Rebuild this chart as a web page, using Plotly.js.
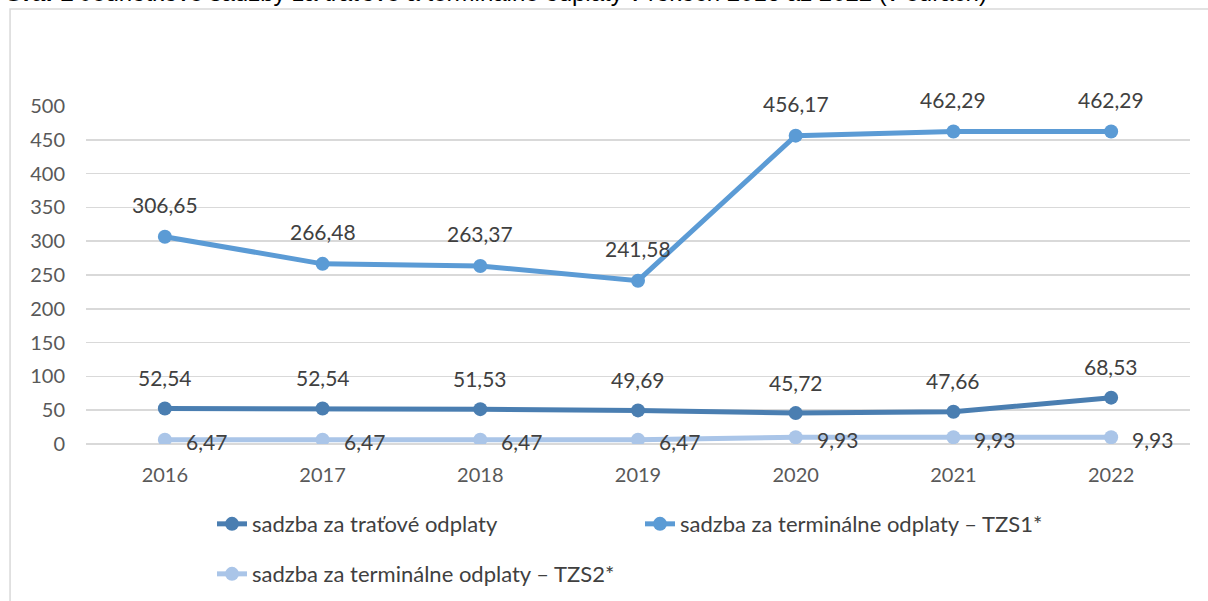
<!DOCTYPE html>
<html>
<head>
<meta charset="utf-8">
<script src="https://cdn.plot.ly/plotly-3.0.1.min.js"></script>
<style>
  html, body { margin: 0; padding: 0; background: #ffffff; }
  #chart { width: 1208px; height: 601px; }
</style>
</head>
<body>
<div id="chart"></div>
<script>
// ---- data ----
const years = ['2016', '2017', '2018', '2019', '2020', '2021', '2022'];
const tratove = [52.54, 52.54, 51.53, 49.69, 45.72, 47.66, 68.53];
const tzs1 = [306.65, 266.48, 263.37, 241.58, 456.17, 462.29, 462.29];
const tzs2 = [6.47, 6.47, 6.47, 6.47, 9.93, 9.93, 9.93];
const seriesNames = [
  'sadzba za traťové odplaty',
  'sadzba za terminálne odplaty – TZS1*',
  'sadzba za terminálne odplaty – TZS2*'
];
const captionText = '<b>Graf 1</b> Jednotkové sadzby za traťové a terminálne odplaty v rokoch 2016 až 2022 (v eurách)';

// ---- styles ----
const colors = ['#4a7eb1', '#5b9bd5', '#aac5e8'];
const FONT = 'Lato, "Open Sans", sans-serif';
const fmt = v => v.toFixed(2).replace('.', ',');
const LABEL_SIZE = 21;

const traces = [tratove, tzs1, tzs2].map((vals, i) => ({
  type: 'scatter',
  mode: 'lines+markers',
  x: years,
  y: vals,
  name: seriesNames[i],
  legend: i === 2 ? 'legend2' : 'legend',
  line: { color: colors[i], width: 5 },
  marker: { color: colors[i], size: 14 },
  hoverinfo: 'skip'
}));

const annotations = [];
years.forEach((yr, k) => {
  // k = category index on the category x axis
  annotations.push({
    x: k, y: tratove[k], xref: 'x', yref: 'y',
    text: fmt(tratove[k]), showarrow: false,
    xanchor: 'center', yanchor: 'middle', yshift: 31,
    font: { family: FONT, size: LABEL_SIZE, color: '#404040' }
  });
  annotations.push({
    x: k, y: tzs1[k], xref: 'x', yref: 'y',
    text: fmt(tzs1[k]), showarrow: false,
    xanchor: 'center', yanchor: 'middle', yshift: 32,
    font: { family: FONT, size: LABEL_SIZE, color: '#404040' }
  });
  annotations.push({
    x: k, y: tzs2[k], xref: 'x', yref: 'y',
    text: fmt(tzs2[k]), showarrow: false,
    xanchor: 'left', yanchor: 'middle', xshift: 19, yshift: -2,
    font: { family: FONT, size: LABEL_SIZE, color: '#404040' }
  });
});
// caption, cut off at the top edge as in the reference
annotations.push({
  xref: 'paper', yref: 'paper', x: -0.0761, y: 1.2885,
  xanchor: 'left', yanchor: 'bottom', showarrow: false,
  text: captionText,
  font: { family: '"Liberation Sans", Arial, sans-serif', size: 24, color: '#000000' }
});

const layout = {
  width: 1208,
  height: 601,
  margin: { l: 86, r: 18, t: 106, b: 157 },
  paper_bgcolor: '#ffffff',
  plot_bgcolor: '#ffffff',
  separators: ', ',
  showlegend: true,
  font: { family: FONT, size: 20, color: '#595959' },
  xaxis: {
    type: 'category',
    range: [-0.5, 6.5],
    autorange: false,
    showgrid: false,
    showline: false,
    zeroline: false,
    ticks: '',
    ticklabelstandoff: 17,
    tickfont: { family: FONT, size: 20, color: '#595959' }
  },
  yaxis: {
    range: [0, 500],
    autorange: false,
    dtick: 50,
    tick0: 0,
    showgrid: true,
    gridcolor: '#d9d9d9',
    gridwidth: 1.5,
    zeroline: true,
    zerolinecolor: '#d9d9d9',
    zerolinewidth: 1.5,
    showline: false,
    ticks: '',
    ticklabelstandoff: 20,
    tickfont: { family: FONT, size: 20, color: '#595959' }
  },
  legend: {
    orientation: 'h',
    xref: 'container', yref: 'container',
    x: 212 / 1208, xanchor: 'left',
    y: 0.163, yanchor: 'top',
    entrywidth: 383, entrywidthmode: 'pixels',
    bgcolor: 'rgba(0,0,0,0)',
    font: { family: FONT, size: 22, color: '#404040' }
  },
  legend2: {
    orientation: 'h',
    xref: 'container', yref: 'container',
    x: 212 / 1208, xanchor: 'left',
    y: 0.0798, yanchor: 'top',
    bgcolor: 'rgba(0,0,0,0)',
    font: { family: FONT, size: 22, color: '#404040' }
  },
  shapes: [{
    type: 'rect', xref: 'paper', yref: 'paper',
    x0: -0.0688, x1: 1.03, y0: -0.5, y1: 1.287,
    line: { color: '#d9d9d9', width: 1.5 },
    fillcolor: 'rgba(0,0,0,0)',
    layer: 'below'
  }],
  annotations: annotations
};

Plotly.newPlot('chart', traces, layout, { staticPlot: true, displayModeBar: false });
</script>
</body>
</html>
